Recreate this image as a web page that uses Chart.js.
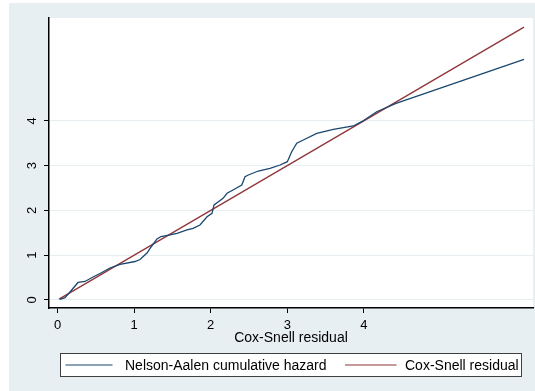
<!DOCTYPE html>
<html>
<head>
<meta charset="utf-8">
<script src="https://cdn.jsdelivr.net/npm/chart.js@4/dist/chart.umd.min.js"></script>
<style>
  html, body { margin: 0; padding: 0; background: #ffffff; }
  #wrap { position: relative; width: 535px; height: 391px; }
</style>
</head>
<body>
<div id="wrap"><canvas id="c" width="535" height="391"></canvas></div>
<script>
// Nelson-Aalen cumulative hazard of the Cox-Snell residuals
const naResidual = [0.033, 0.098, 0.163, 0.268, 0.359, 0.463, 0.555, 0.685, 0.816, 1.012, 1.077, 1.168, 1.221, 1.299, 1.351, 1.469, 1.560, 1.690, 1.769, 1.860, 1.952, 2.017, 2.043, 2.096, 2.161, 2.213, 2.291, 2.405, 2.448, 2.491, 2.621, 2.774, 2.905, 3.000, 3.057, 3.123, 3.209, 3.384, 3.601, 3.862, 3.971, 4.167, 4.419, 6.090];
const naHazard   = [0.016, 0.051, 0.179, 0.391, 0.413, 0.513, 0.592, 0.714, 0.797, 0.859, 0.904, 1.049, 1.183, 1.362, 1.417, 1.451, 1.489, 1.563, 1.600, 1.674, 1.859, 1.935, 2.121, 2.188, 2.270, 2.382, 2.455, 2.567, 2.752, 2.790, 2.879, 2.940, 3.013, 3.087, 3.310, 3.498, 3.571, 3.721, 3.810, 3.884, 3.980, 4.203, 4.391, 5.373];

// 45-degree reference line: residual against itself
const csResidual = [0.02, 6.09];
const csLine     = [0.02, 6.09];

const xTicks = [0, 1, 2, 3, 4];
const yTicks = [0, 1, 2, 3, 4];

const seriesLabels = ['Nelson-Aalen cumulative hazard', 'Cox-Snell residual'];
const xTitle = 'Cox-Snell residual';

const NAVY = '#1a476f';
const MAROON = '#90353b';
const BG = '#e8eff2';

function toPoints(xs, ys) { return xs.map((x, i) => ({ x: x, y: ys[i] })); }

const backdrop = {
  id: 'backdrop',
  beforeDraw(chart) {
    const ctx = chart.ctx, a = chart.chartArea;
    ctx.save();
    ctx.fillStyle = '#ffffff';
    ctx.fillRect(0, 0, chart.width, chart.height);
    ctx.fillStyle = BG;
    ctx.fillRect(9, 3, chart.width - 9, chart.height - 3);
    ctx.fillStyle = '#ffffff';
    ctx.fillRect(a.left, a.top, a.right - a.left, a.bottom - a.top);
    ctx.restore();
  }
};

// boxed legend below the x-axis title
const boxLegend = {
  id: 'boxLegend',
  afterDraw(chart) {
    const ctx = chart.ctx;
    const bx = 60.5, by = 353.5, bw = 461, bh = 23;
    ctx.save();
    ctx.fillStyle = '#ffffff';
    ctx.fillRect(bx, by, bw, bh);
    ctx.strokeStyle = '#404040';
    ctx.lineWidth = 1;
    ctx.strokeRect(bx, by, bw, bh);
    const cy = by + bh / 2;
    const entries = [
      { x0: 65.5, x1: 112.5, tx: 125 },
      { x0: 345, x1: 396.5, tx: 405 }
    ];
    ctx.font = '14px "Liberation Sans", Arial, sans-serif';
    ctx.textBaseline = 'middle';
    ctx.textAlign = 'left';
    chart.data.datasets.forEach((ds, i) => {
      const e = entries[i];
      ctx.strokeStyle = ds.borderColor;
      ctx.lineWidth = 1.2;
      ctx.beginPath();
      ctx.moveTo(e.x0, cy);
      ctx.lineTo(e.x1, cy);
      ctx.stroke();
      ctx.fillStyle = '#000000';
      ctx.fillText(ds.label, e.tx, cy + 1);
    });
    ctx.restore();
  }
};

new Chart(document.getElementById('c'), {
  type: 'line',
  data: {
    datasets: [
      {
        label: seriesLabels[0],
        data: toPoints(naResidual, naHazard),
        borderColor: NAVY,
        borderWidth: 1.3,
        pointRadius: 0,
        tension: 0,
        fill: false
      },
      {
        label: seriesLabels[1],
        data: toPoints(csResidual, csLine),
        borderColor: MAROON,
        borderWidth: 1.3,
        pointRadius: 0,
        tension: 0,
        fill: false
      }
    ]
  },
  options: {
    responsive: false,
    animation: false,
    devicePixelRatio: 1,
    layout: { padding: { left: 0, top: 18, right: 2, bottom: 43 } },
    plugins: {
      legend: { display: false },
      tooltip: { enabled: false }
    },
    scales: {
      x: {
        type: 'linear',
        min: -0.111,
        max: 6.207,
        afterBuildTicks(scale) { scale.ticks = xTicks.map(v => ({ value: v })); },
        afterFit(scale) { scale.height = 40; },
        border: { display: true, color: '#000000', width: 1.5 },
        grid: { drawOnChartArea: false, drawTicks: true, tickLength: 5, tickColor: '#000000', tickWidth: 1 },
        ticks: {
          color: '#000000',
          padding: 5,
          maxRotation: 0,
          font: { family: '"Liberation Sans", Arial, sans-serif', size: 13 }
        },
        title: {
          display: true,
          text: xTitle,
          color: '#000000',
          padding: { top: 0, bottom: 1 },
          font: { family: '"Liberation Sans", Arial, sans-serif', size: 14 }
        }
      },
      y: {
        type: 'linear',
        min: -0.179,
        max: 6.295,
        afterBuildTicks(scale) { scale.ticks = yTicks.map(v => ({ value: v })); },
        afterFit(scale) { scale.width = 49; },
        border: { display: true, color: '#000000', width: 1.5 },
        grid: { color: '#e6eef1', lineWidth: 1, drawTicks: true, tickLength: 5, tickColor: '#000000', tickWidth: 1 },
        ticks: {
          color: '#000000',
          padding: 8,
          minRotation: 90,
          maxRotation: 90,
          crossAlign: 'center',
          font: { family: '"Liberation Sans", Arial, sans-serif', size: 13 }
        }
      }
    }
  },
  plugins: [backdrop, boxLegend]
});
</script>
</body>
</html>
